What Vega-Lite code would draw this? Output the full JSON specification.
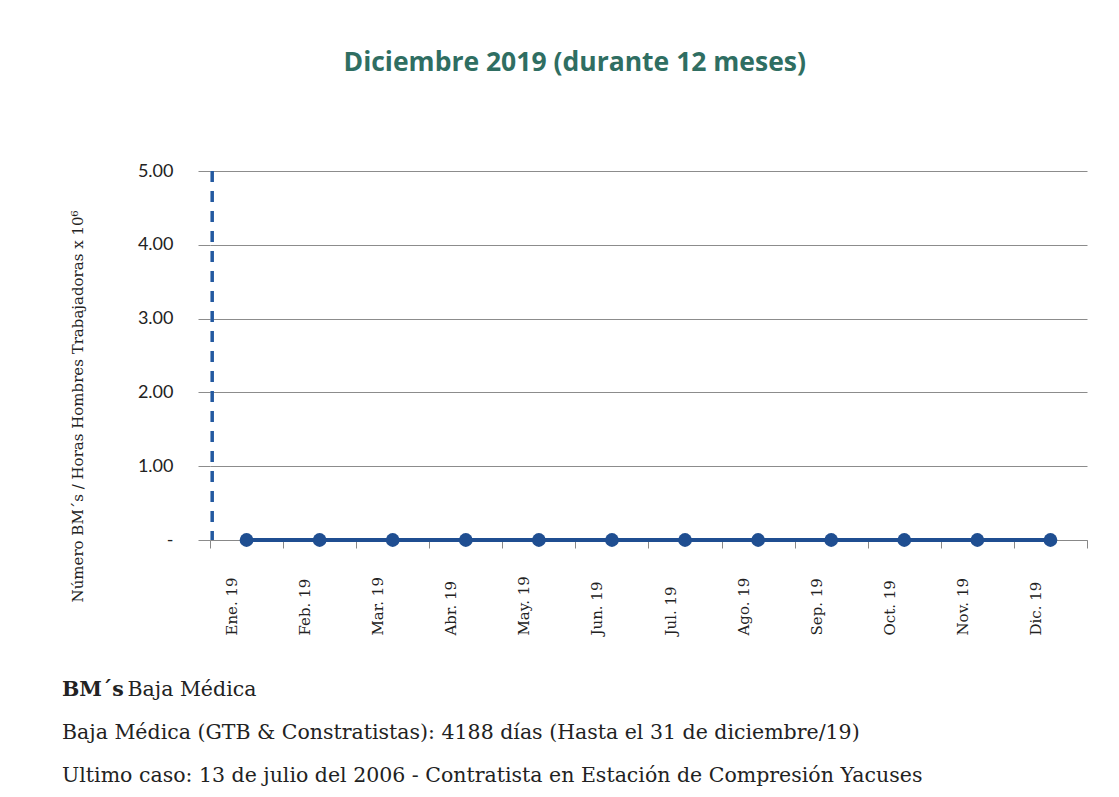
{
  "$schema": "https://vega.github.io/schema/vega-lite/v6.json",
  "padding": {"left": 62, "top": 49, "right": 32, "bottom": 0},
  "background": "white",
  "title": {"text": "Diciembre 2019 (durante 12 meses)", "anchor": "middle", "font": "Open Sans", "fontSize": 26.5, "fontWeight": "bold", "color": "#2f6e62", "offset": 86},
  "config": {"view": {"stroke": null}},
  "spacing": 32,
  "vconcat": [
    {
      "width": 877,
      "height": 369,
      "data": {"values": [
        {"month": "Ene. 19", "value": 0},
        {"month": "Feb. 19", "value": 0},
        {"month": "Mar. 19", "value": 0},
        {"month": "Abr. 19", "value": 0},
        {"month": "May. 19", "value": 0},
        {"month": "Jun. 19", "value": 0},
        {"month": "Jul. 19", "value": 0},
        {"month": "Ago. 19", "value": 0},
        {"month": "Sep. 19", "value": 0},
        {"month": "Oct. 19", "value": 0},
        {"month": "Nov. 19", "value": 0},
        {"month": "Dic. 19", "value": 0}
      ]},
      "encoding": {
        "x": {
          "field": "month", "type": "ordinal", "sort": null,
          "scale": {"paddingInner": 0, "paddingOuter": 0},
          "axis": {
            "title": null, "labelAngle": -90, "labelAlign": "left", "labelBaseline": "middle",
            "labelPadding": 87, "tickSize": 8, "tickBand": "extent", "tickColor": "#888888",
            "domainColor": "#888888", "labelFont": "DejaVu Serif", "labelFontSize": 15,
            "labelColor": "#222222", "labelOffset": -15, "grid": false
          }
        }
      },
      "layer": [
        {
          "mark": {"type": "line", "color": "#1f4e91", "strokeWidth": 4},
          "encoding": {
            "y": {
              "field": "value", "type": "quantitative",
              "scale": {"domain": [0, 5], "nice": false},
              "axis": {
                "title": "Número BM´s / Horas Hombres Trabajadoras x 10⁶",
                "values": [0, 1, 2, 3, 4, 5],
                "labelExpr": "datum.value == 0 ? '-' : format(datum.value, '.2f')",
                "domain": false, "ticks": true, "tickSize": 12, "tickColor": "#8c8c8c",
                "grid": true, "gridColor": "#8c8c8c", "labelPadding": 25,
                "labelFont": "Lato", "labelFontSize": 18, "labelColor": "#222222",
                "titleFont": "DejaVu Serif", "titleFontSize": 15, "titleFontWeight": "normal",
                "titleColor": "#222222", "titlePadding": 52, "titleY": 235
              }
            }
          }
        },
        {
          "mark": {"type": "circle", "color": "#1f4e91", "opacity": 1, "size": 190},
          "encoding": {"y": {"field": "value", "type": "quantitative"}}
        },
        {
          "data": {"values": [{"month": "Ene. 19"}]},
          "mark": {"type": "rule", "color": "#2359a0", "strokeWidth": 3.5, "strokeDash": [11, 9]},
          "encoding": {"x": {"field": "month", "type": "ordinal", "sort": null, "bandPosition": 0.03}}
        }
      ]
    },
    {
      "width": 877,
      "height": 129,
      "data": {"values": [
        {"line": 1, "kind": "bold", "text": "BM´s"},
        {"line": 1, "kind": "lead", "text": "Baja Médica"},
        {"line": 2, "kind": "plain", "text": "Baja Médica (GTB & Constratistas): 4188 días (Hasta el 31 de diciembre/19)"},
        {"line": 3, "kind": "plain", "text": "Ultimo caso: 13 de julio del 2006 - Contratista en Estación de Compresión Yacuses"}
      ]},
      "encoding": {
        "y": {"field": "line", "type": "ordinal", "axis": null},
        "text": {"field": "text"}
      },
      "layer": [
        {
          "transform": [{"filter": "datum.kind == 'bold'"}],
          "mark": {"type": "text", "align": "left", "dx": -586.5, "font": "DejaVu Serif", "fontSize": 20.5, "fontWeight": "bold", "color": "#222222"}
        },
        {
          "transform": [{"filter": "datum.kind == 'lead'"}],
          "mark": {"type": "text", "align": "left", "dx": -521, "font": "DejaVu Serif", "fontSize": 20.5, "color": "#222222"}
        },
        {
          "transform": [{"filter": "datum.kind == 'plain'"}],
          "mark": {"type": "text", "align": "left", "dx": -586.5, "font": "DejaVu Serif", "fontSize": 20.5, "color": "#222222"}
        }
      ]
    }
  ]
}
